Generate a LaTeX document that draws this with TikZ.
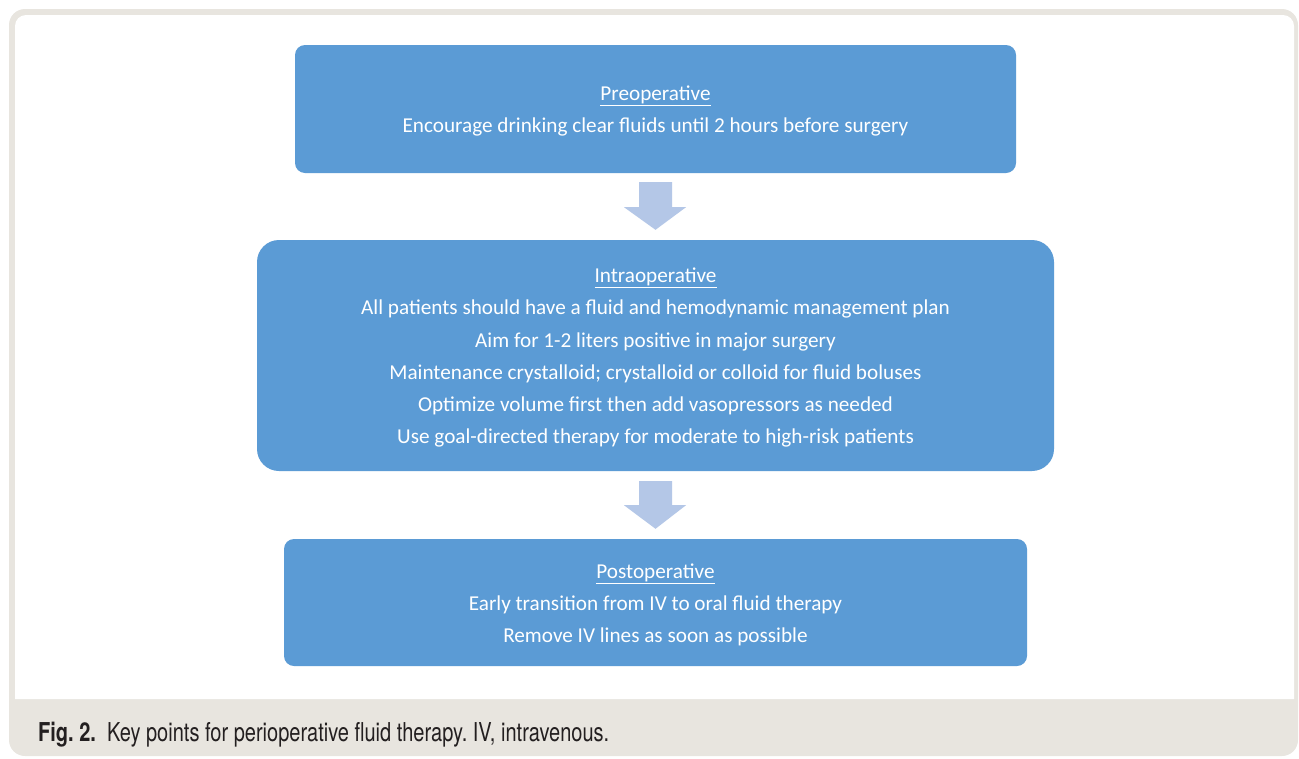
\documentclass[tikz,border=0pt]{standalone}
\usepackage{fontspec}
\setmainfont{Carlito}
\newfontfamily\capfont[FakeStretch=0.77]{TeX Gyre Heros}
\usetikzlibrary{calc}
\frenchspacing
\definecolor{boxblue}{RGB}{91,155,213}
\definecolor{arrowblue}{RGB}{180,199,231}
\definecolor{framec}{RGB}{232,229,223}
\definecolor{captext}{RGB}{35,31,32}
\newcommand{\stagetitle}[1]{\rule{0pt}{19pt}\underline{#1}}
\tikzset{
  stagebox/.style={fill=boxblue, text=white, align=center, inner sep=0pt,
    font=\fontsize{21.2}{32.3}\selectfont},
  flowarrow/.style={fill=arrowblue},
}
\begin{document}
\begin{tikzpicture}[x=1pt,y=-1pt]
\useasboundingbox (0,0) rectangle (1299,758);
\fill[framec, rounded corners=16pt] (9,9) rectangle (1298,756);
\fill[white] (15,699) -- (15,26) arc[start angle=180, end angle=270, radius=11]
  -- (1283,15) arc[start angle=270, end angle=360, radius=11] -- (1294,699) -- cycle;
\node[stagebox, rounded corners=10pt, minimum width=721pt, minimum height=128pt] (pre) at (655.5,109)
  {\stagetitle{Preoperative}\\Encourage drinking clear fluids until 2 hours before surgery};
\node[stagebox, rounded corners=22pt, minimum width=797pt, minimum height=231pt] (intra) at (655.5,355.5)
  {\stagetitle{Intraoperative}\\All patients should have a fluid and hemodynamic management plan\\
   Aim for 1-2 liters positive in major surgery\\
   Maintenance crystalloid; crystalloid or colloid for fluid boluses\\
   Optimize volume first then add vasopressors as needed\\
   Use goal-directed therapy for moderate to high-risk patients};
\node[stagebox, rounded corners=10pt, minimum width=743pt, minimum height=127pt] (post) at (655.5,602.5)
  {\stagetitle{Postoperative}\\Early transition from IV to oral fluid therapy\\Remove IV lines as soon as possible};
\fill[flowarrow] ($(pre.south)+(-16.5,9)$) -- ++(33,0) -- ++(0,25) -- ++(14,0)
  -- ($(intra.north)+(0,-10)$) -- ($(pre.south)+(-31.5,34)$) -- ++(15,0) -- cycle;
\fill[flowarrow] ($(intra.south)+(-16.5,10)$) -- ++(33,0) -- ++(0,24) -- ++(14,0)
  -- ($(post.north)+(0,-10)$) -- ($(intra.south)+(-31.5,34)$) -- ++(15,0) -- cycle;
\node[anchor=west, text=captext, font=\capfont\fontsize{26}{30}\selectfont, inner sep=0pt] (cap) at (38,735)
  {\textbf{Fig. 2.}\hspace{11pt}Key points for perioperative fluid therapy. IV, intravenous.};
\end{tikzpicture}
\end{document}
